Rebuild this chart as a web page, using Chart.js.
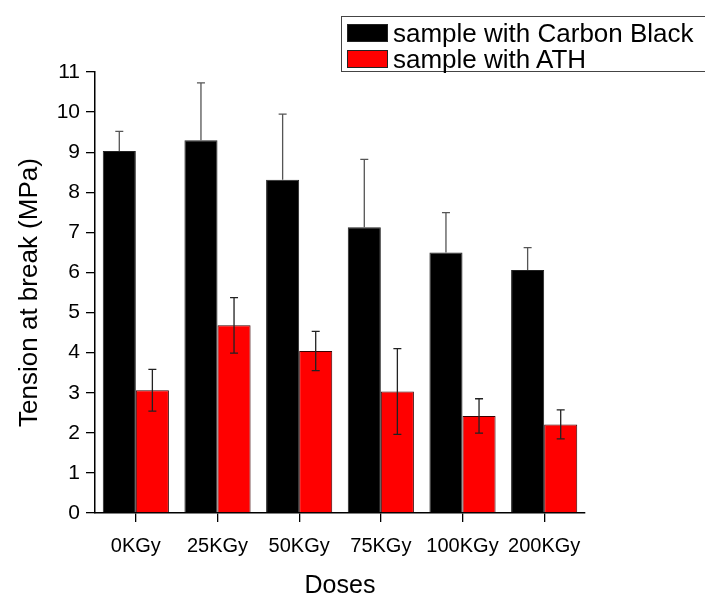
<!DOCTYPE html>
<html>
<head>
<meta charset="utf-8">
<script src="https://cdn.jsdelivr.net/npm/chart.js@4.4.1/dist/chart.umd.min.js"></script>
<style>
  html, body { margin: 0; padding: 0; background: #fff; }
  #wrap { position: relative; width: 705px; height: 595px; }
  #legend {
    position: absolute; left: 341px; top: 16px; width: 364px; height: 56px;
    border: 1px solid #444; border-right: none; box-sizing: border-box; background: #fff;
    font-family: "Liberation Sans", Arial, sans-serif; font-size: 26px; color: #000;
    padding: 3px 0 0 5px; white-space: nowrap;
  }
  #legend .row { display: flex; align-items: center; height: 26px; }
  #legend .sw { width: 41px; height: 18px; box-sizing: border-box; border: 1px solid #222; margin-right: 5px; flex: none; }
</style>
</head>
<body>
<div id="wrap">
  <canvas id="chart" width="705" height="595"></canvas>
  <div id="legend"></div>
</div>
<script>
const categories = ['0KGy', '25KGy', '50KGy', '75KGy', '100KGy', '200KGy'];
const carbonBlack = [9.03, 9.30, 8.31, 7.13, 6.50, 6.06];
const carbonBlackErr = [0.49, 1.43, 1.64, 1.69, 0.99, 0.56];
const ath = [3.06, 4.68, 4.04, 3.03, 2.42, 2.21];
const athErr = [0.52, 0.69, 0.49, 1.07, 0.43, 0.36];
const yTicks = [0, 1, 2, 3, 4, 5, 6, 7, 8, 9, 10, 11];

const FONT = '"Liberation Sans", Arial, sans-serif';

// error bars drawn from the y scale
const errorBars = {
  id: 'errorBars',
  afterDatasetsDraw(chart) {
    const { ctx, scales: { y } } = chart;
    chart.data.datasets.forEach((ds, di) => {
      const meta = chart.getDatasetMeta(di);
      ctx.save();
      ctx.strokeStyle = ds._errColor;
      ctx.lineWidth = 1.3;
      meta.data.forEach((bar, i) => {
        const v = ds.data[i], e = ds._err[i];
        const x = bar.x;
        const yTop = y.getPixelForValue(v + e);
        // lower half hidden inside the black bars
        const yBot = ds._errUpOnly ? y.getPixelForValue(v) : y.getPixelForValue(v - e);
        ctx.beginPath();
        ctx.moveTo(x, yTop); ctx.lineTo(x, yBot);
        ctx.moveTo(x - 4, yTop); ctx.lineTo(x + 4, yTop);
        if (!ds._errUpOnly) { ctx.moveTo(x - 4, yBot); ctx.lineTo(x + 4, yBot); }
        ctx.stroke();
      });
      ctx.restore();
    });
  }
};

const cfg = {
  type: 'bar',
  data: {
    labels: categories,
    datasets: [
      {
        label: 'sample with Carbon Black',
        data: carbonBlack,
        _err: carbonBlackErr,
        _errColor: '#555',
        _errUpOnly: true,
        backgroundColor: '#000',
        borderColor: '#222',
        borderWidth: 1,
        barPercentage: 1.0,
        categoryPercentage: 0.81,
      },
      {
        label: 'sample with ATH',
        data: ath,
        _err: athErr,
        _errColor: '#222',
        backgroundColor: '#ff0000',
        borderColor: '#3a0000',
        borderWidth: 1,
        barPercentage: 1.0,
        categoryPercentage: 0.81,
      }
    ]
  },
  options: {
    responsive: false,
    animation: false,
    layout: { padding: { left: 0, top: 72, right: 120, bottom: 0 } },
    plugins: {
      legend: { display: false },
      tooltip: { enabled: false }
    },
    scales: {
      x: {
        offset: true,
        grid: { display: true, offset: false, drawOnChartArea: false, drawTicks: true, tickLength: 9, color: '#000', lineWidth: 1.3 },
        border: { display: true, color: '#000', width: 1.5 },
        ticks: { color: '#000', font: { family: FONT, size: 20 }, padding: 12, maxRotation: 0, minRotation: 0, autoSkip: false },
        title: { display: true, text: 'Doses', color: '#000', font: { family: FONT, size: 25 }, padding: { top: 0, bottom: -6 } },
        afterFit: s => { s.height = 82; }
      },
      y: {
        min: 0,
        max: 11,
        afterBuildTicks: s => { s.ticks = yTicks.map(v => ({ value: v })); },
        grid: { display: true, drawOnChartArea: false, drawTicks: true, tickLength: 9, color: '#000', lineWidth: 1.3 },
        border: { display: true, color: '#000', width: 1.5 },
        ticks: { color: '#000', font: { family: FONT, size: 21 }, padding: 6 },
        title: { display: true, text: 'Tension at break (MPa)', color: '#000', font: { family: FONT, size: 26 }, padding: { top: 14, bottom: 0 } },
        afterFit: s => { s.width = 95; }
      }
    }
  },
  plugins: [errorBars]
};

const chart = new Chart(document.getElementById('chart').getContext('2d'), cfg);

// html legend from the datasets
const leg = document.getElementById('legend');
cfg.data.datasets.forEach(ds => {
  const row = document.createElement('div');
  row.className = 'row';
  const sw = document.createElement('span');
  sw.className = 'sw';
  sw.style.background = ds.backgroundColor;
  const tx = document.createElement('span');
  tx.textContent = ds.label;
  row.appendChild(sw); row.appendChild(tx);
  leg.appendChild(row);
});
</script>
</body>
</html>
